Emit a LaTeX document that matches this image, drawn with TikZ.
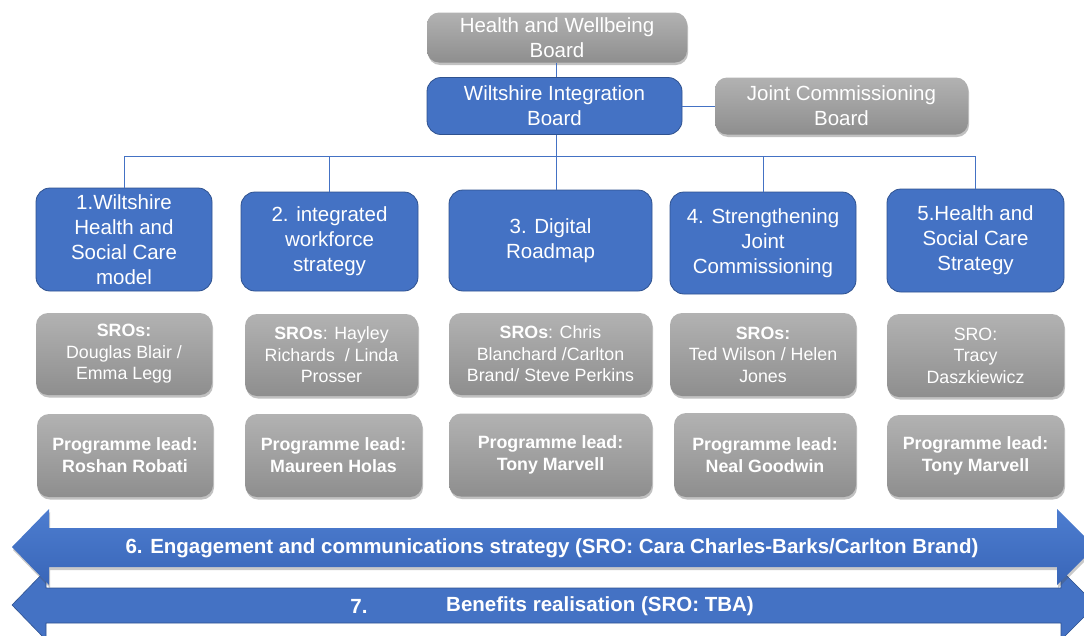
\documentclass[tikz,border=0pt]{standalone}
\usepackage{fontspec}
\setmainfont{Liberation Sans}
\usetikzlibrary{shadows}
\definecolor{wblue}{HTML}{4472C4}
\definecolor{wbluedark}{HTML}{2F528F}
\definecolor{atop}{HTML}{4D7DD0}
\definecolor{abot}{HTML}{3966B8}
\definecolor{gtop}{HTML}{B2B2B2}
\definecolor{gbot}{HTML}{8E8E8E}
\tikzset{
  bluebox/.style={rounded corners=14pt, fill=wblue, draw=wbluedark, line width=0.8pt,
    text=white, align=center, inner sep=0pt, font=\fontsize{20.5}{25}\selectfont},
  graybox/.style={rounded corners=12pt, top color=gtop, bottom color=gbot, draw=none,
    text=white, align=center, inner sep=0pt, font=\fontsize{17.8}{21.5}\selectfont,
    drop shadow={shadow xshift=1pt, shadow yshift=-2.5pt, opacity=0.35, fill=black!70}},
  topgray/.style={graybox, font=\fontsize{20.5}{25}\selectfont},
  leadbox/.style={graybox, font=\fontsize{17.8}{22}\selectfont\bfseries},
  conn/.style={draw=wblue, line width=0.9pt},
  arrtext/.style={text=white, inner sep=0pt, font=\fontsize{20.5}{24}\selectfont\bfseries}
}
\begin{document}
\begin{tikzpicture}[x=1pt,y=-1pt]
\useasboundingbox (0,0) rectangle (1084,635);
\clip (0,0) rectangle (1084,635);

% top boards
\node[topgray, minimum width=260pt, minimum height=50pt] (hwb) at (557,37.5) {Health and Wellbeing\\Board};
\node[bluebox, minimum width=255pt, minimum height=57pt] (wib) at (554.5,106) {Wiltshire Integration\\Board};
\node[topgray, minimum width=253pt, minimum height=57pt] (jcb) at (841.5,106) {Joint Commissioning\\Board};

% workstreams
\node[bluebox, minimum width=176pt, minimum height=103pt] (b1) at (124,239.5) {1.Wiltshire\\Health and\\Social Care\\model};
\node[bluebox, minimum width=177pt, minimum height=99pt] (b2) at (329.5,241.5) {2. integrated\\workforce\\strategy};
\node[bluebox, minimum width=203pt, minimum height=101pt] (b3) at (550.5,240.5) {3. Digital\\Roadmap};
\node[bluebox, minimum width=186pt, minimum height=102pt] (b4) at (763,243) {4. Strengthening\\Joint\\Commissioning};
\node[bluebox, minimum width=177pt, minimum height=103pt] (b5) at (975.5,240.5) {5.Health and\\Social Care\\Strategy};

% SROs
\node[graybox, minimum width=176pt, minimum height=82pt] (s1) at (124,354) {\textbf{SROs:}\\Douglas Blair /\\Emma Legg};
\node[graybox, minimum width=173pt, minimum height=82pt] (s2) at (331.5,355) {\textbf{SROs}: Hayley\\Richards \ / Linda\\Prosser};
\node[graybox, minimum width=203pt, minimum height=82pt] (s3) at (550.5,354) {\textbf{SROs}: Chris\\Blanchard /Carlton\\Brand/ Steve Perkins};
\node[graybox, minimum width=186pt, minimum height=83pt] (s4) at (763,354.5) {\textbf{SROs:}\\Ted Wilson / Helen\\Jones};
\node[graybox, minimum width=177pt, minimum height=83pt] (s5) at (975.5,355.5) {SRO:\\Tracy\\Daszkiewicz};

% programme leads
\node[leadbox, minimum width=176pt, minimum height=83pt] (p1) at (125,455.5) {Programme lead:\\Roshan Robati};
\node[leadbox, minimum width=177pt, minimum height=83pt] (p2) at (333.5,455.5) {Programme lead:\\Maureen Holas};
\node[leadbox, minimum width=203pt, minimum height=83pt] (p3) at (550.5,455) {Programme lead:\\Tony Marvell};
\node[leadbox, minimum width=182pt, minimum height=84pt] (p4) at (765,455) {Programme lead:\\Neal Goodwin};
\node[leadbox, minimum width=177pt, minimum height=82pt] (p5) at (975.5,456) {Programme lead:\\Tony Marvell};

% connectors
\coordinate (bus) at (556,156);
\draw[conn] (hwb.south -| bus) -- (wib.north -| bus);
\draw[conn] (wib.east) -- (jcb.west);
\draw[conn] (wib.south -| bus) -- (b3.north -| bus);
\draw[conn] (b1.north |- bus) -- (b5.north |- bus);
\draw[conn] (b1.north |- bus) -- (b1.north);
\draw[conn] (b2.north |- bus) -- (b2.north);
\draw[conn] (b4.north |- bus) -- (b4.north);
\draw[conn] (b5.north |- bus) -- (b5.north);

% arrow 7
\path[fill=wblue, draw=wbluedark, line width=0.6pt]
  (12,605) -- (46,570) -- (46,588) -- (1061,588) -- (1061,570) -- (1096,605)
  -- (1061,640) -- (1061,623) -- (46,623) -- (46,640) -- cycle;
% arrow 6
\path[top color=atop, bottom color=abot,
  drop shadow={shadow xshift=1pt, shadow yshift=-3pt, opacity=0.3, fill=black!70}]
  (12,547) -- (49,509) -- (49,528) -- (1057,528) -- (1057,509) -- (1095,547)
  -- (1057,585) -- (1057,567) -- (49,567) -- (49,585) -- cycle;

\node[arrtext] (a6) at (552,548) {6. Engagement and communications strategy (SRO: Cara Charles-Barks/Carlton Brand)};
\node[arrtext] (a7n) at (359,606) {7.};
\node[arrtext] (a7) at (600,606) {Benefits realisation (SRO: TBA)};
\end{tikzpicture}
\end{document}
